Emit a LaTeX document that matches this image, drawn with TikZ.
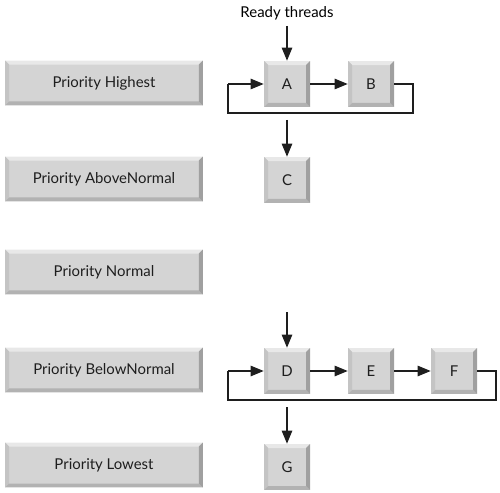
\documentclass[tikz,border=0pt]{standalone}
\usepackage{fontspec}
\setmainfont{Lato}
\usepackage{tikz}
\usetikzlibrary{arrows.meta, positioning, calc}
\definecolor{keyface}{RGB}{212,212,212}
\definecolor{keylight}{RGB}{232,232,232}
\definecolor{keyshade}{RGB}{178,178,178}
\definecolor{keyside}{RGB}{196,196,196}
\definecolor{mydark}{RGB}{30,30,30}
\newlength{\bevw}
\setlength{\bevw}{0.08cm}
\tikzset{
  keybase/.style={rectangle, fill=keyface, inner sep=0pt,
    font=\fontsize{8.5}{10}\selectfont, text=mydark,
    path picture={
      \coordinate (nw) at (path picture bounding box.north west);
      \coordinate (ne) at (path picture bounding box.north east);
      \coordinate (sw) at (path picture bounding box.south west);
      \coordinate (se) at (path picture bounding box.south east);
      \fill[keylight] (nw) -- (ne) -- ($(ne)+(-\bevw,-\bevw)$) -- ($(nw)+(\bevw,-\bevw)$) -- cycle;
      \fill[keyside] (nw) -- (sw) -- ($(sw)+(\bevw,\bevw)$) -- ($(nw)+(\bevw,-\bevw)$) -- cycle;
      \fill[keyshade] (sw) -- (se) -- ($(se)+(-\bevw,\bevw)$) -- ($(sw)+(\bevw,\bevw)$) -- cycle;
      \fill[keyshade!90!black] (se) -- (ne) -- ($(ne)+(-\bevw,-\bevw)$) -- ($(se)+(-\bevw,\bevw)$) -- cycle;
    }},
  prio/.style={keybase, minimum width=3.96cm, minimum height=0.9cm},
  thread/.style={keybase, minimum width=0.92cm, minimum height=0.92cm},
  arrow/.style={-{Triangle[length=0.26cm, width=0.21cm]}, line width=0.6pt, color=mydark},
  line/.style={line width=0.6pt, color=mydark}
}

\begin{document}
\begin{tikzpicture}[x=0.02cm, y=-0.02cm]
  \useasboundingbox (0,0) rectangle (500,493);

  % priority levels
  \node[prio] (highest) at (104,83) {Priority Highest};
  \node[prio] (above) at (104,179) {Priority AboveNormal};
  \node[prio] (normal) at (104,272) {Priority Normal};
  \node[prio] (below) at (104,370) {Priority BelowNormal};
  \node[prio] (lowest) at (104,465) {Priority Lowest};

  % threads
  \node[font=\fontsize{8.5}{10}\selectfont] (ready) at (287,13) {Ready threads};
  \node[thread] (A) at (287,84) {A};
  \node[thread] (B) at (371,84) {B};
  \node[thread] (C) at (287,180) {C};
  \node[thread] (D) at (287,371) {D};
  \node[thread] (E) at (371,371) {E};
  \node[thread] (F) at (454,371) {F};
  \node[thread] (G) at (287,467) {G};

  \coordinate (toprt) at (413,84);
  \coordinate (topbr) at (413,113);
  \coordinate (topbl) at (228,113);
  \coordinate (toplt) at (228,84);
  \coordinate (cin) at (287,120);
  \coordinate (din) at (287,312);
  \coordinate (botrt) at (496,371);
  \coordinate (botbr) at (496,400);
  \coordinate (botbl) at (228,400);
  \coordinate (botlt) at (228,371);
  \coordinate (gin) at (287,407);

  \draw[arrow] (ready) -- (A);
  \draw[arrow] (A) -- (B);
  \draw[line] (B.east) -- (toprt) -- (topbr) -- (topbl) -- (toplt);
  \draw[arrow] (toplt) -- (A.west);
  \draw[arrow] (cin) -- (C);

  \draw[arrow] (din) -- (D);
  \draw[arrow] (D) -- (E);
  \draw[arrow] (E) -- (F);
  \draw[line] (F.east) -- (botrt) -- (botbr) -- (botbl) -- (botlt);
  \draw[arrow] (botlt) -- (D.west);
  \draw[arrow] (gin) -- (G);
\end{tikzpicture}
\end{document}
